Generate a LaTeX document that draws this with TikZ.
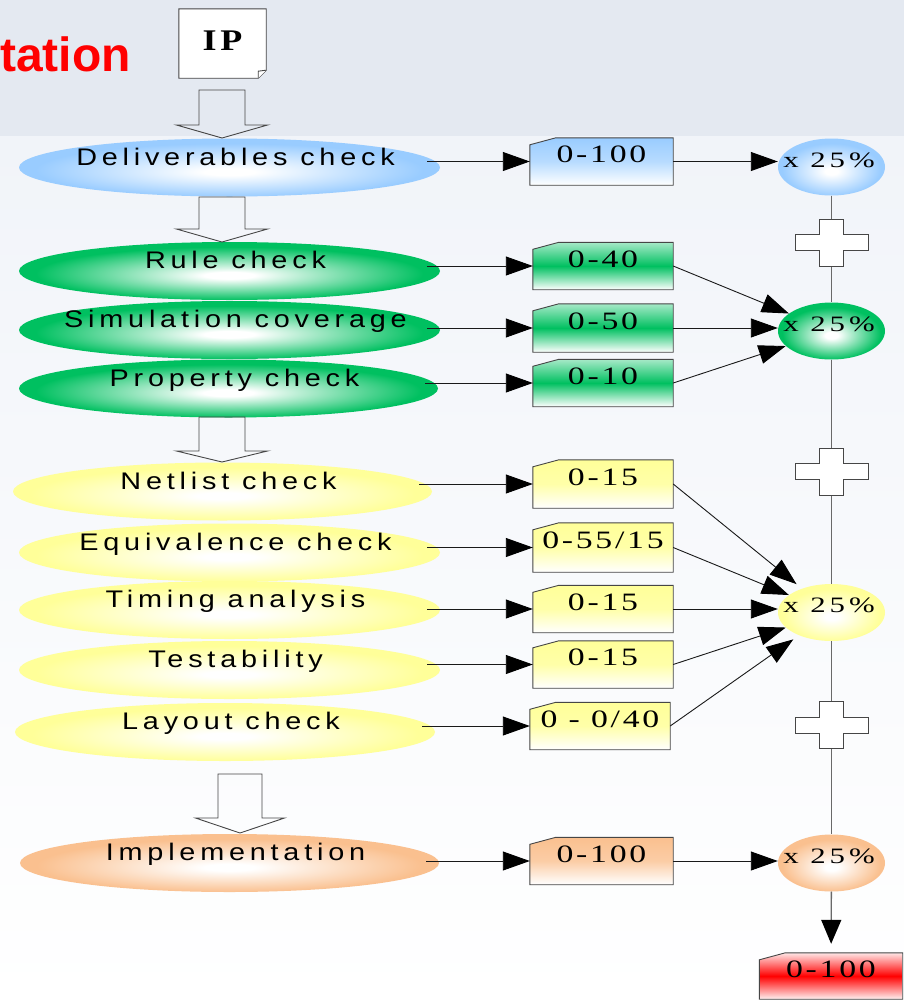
\documentclass[tikz,border=0pt]{standalone}
\usepackage{fontspec}
\setmainfont{Liberation Serif}
\newfontfamily\ellfont{Liberation Sans}[FakeStretch=1.2,LetterSpace=20]
\newfontfamily\boxfont{Liberation Serif}[FakeStretch=1.35,LetterSpace=11]
\newfontfamily\circfont{Liberation Serif}[FakeStretch=1.4,LetterSpace=18]
\newfontfamily\ipfont{Liberation Serif}[FakeStretch=1.2,LetterSpace=12]
\newfontfamily\titlefont{Liberation Sans}
\usetikzlibrary{arrows.meta,shapes.geometric}

\definecolor{cblue}{RGB}{153,204,255}
\definecolor{cgreen}{RGB}{0,192,96}
\definecolor{cyellow}{RGB}{255,255,153}
\definecolor{corange}{RGB}{250,192,143}
\definecolor{cred}{RGB}{255,0,0}
\definecolor{bgtop}{RGB}{228,233,241}
\definecolor{bgmid}{RGB}{241,244,249}
\definecolor{linec}{RGB}{25,25,25}
\definecolor{edgec}{RGB}{70,70,70}
\definecolor{vlinec}{RGB}{105,105,105}

\pgfdeclareradialshading{shblue}{\pgfpoint{0bp}{-4bp}}{color(0bp)=(white); color(3bp)=(white); color(23bp)=(cblue); color(50bp)=(cblue)}
\pgfdeclareradialshading{shgreen}{\pgfpoint{0bp}{-4bp}}{color(0bp)=(white); color(3bp)=(white); color(23bp)=(cgreen); color(50bp)=(cgreen)}
\pgfdeclareradialshading{shyellow}{\pgfpoint{0bp}{-4bp}}{color(0bp)=(white); color(3bp)=(white); color(23bp)=(cyellow); color(50bp)=(cyellow)}
\pgfdeclareradialshading{shorange}{\pgfpoint{0bp}{-4bp}}{color(0bp)=(white); color(3bp)=(white); color(23bp)=(corange); color(50bp)=(corange)}

\pgfdeclarelayer{bg0}
\pgfdeclarelayer{background}
\pgfsetlayers{bg0,background,main}

\newcommand\etxt[1]{\raisebox{2.5pt}{\makebox[0pt]{\hspace{12pt}#1}}}
\newcommand\btxt[1]{\raisebox{-1pt}{\makebox[0pt]{#1}}}
\newcommand\ctxt[1]{\raisebox{0pt}{\makebox[0pt]{\hspace{-5pt}#1}}}
\newcommand\cutbox[2]{\begin{pgfonlayer}{background}\shadedraw[boxedge,#2] (#1.south west) -- (#1.south east) -- (#1.north east) -- ([xshift=26pt]#1.north west) -- ([yshift=-7pt]#1.north west) -- cycle;\end{pgfonlayer}}
\newcommand\blkarrow[6]{\draw[barrow] (#1-#5,#2) -- (#1+#5,#2) -- (#1+#5,#3) -- (#1+#6,#3) -- (#1,#4) -- (#1-#6,#3) -- (#1-#5,#3) -- cycle;}

\begin{document}
\begin{tikzpicture}[x=1pt,y=-1pt,
  ell/.style={ellipse, minimum width=421pt, minimum height=58pt, inner sep=0pt, text height=0pt, text depth=0pt, shade, font=\ellfont\fontsize{24}{24}\selectfont},
  circ/.style={ellipse, minimum width=107pt, minimum height=57pt, inner sep=0pt, text height=0pt, text depth=0pt, shade, font=\circfont\fontsize{22}{22}\selectfont},
  valbox/.style={rectangle, minimum width=140pt, minimum height=47pt, inner sep=0pt, text height=0pt, text depth=0pt, font=\boxfont\fontsize{25}{25}\selectfont},
  boxedge/.style={draw=edgec, line width=0.9pt},
  bluebox/.style={top color=cblue, bottom color=white, middle color=cblue!70},
  greenbox/.style={top color=cgreen!35, bottom color=white, middle color=cgreen},
  yellowbox/.style={top color=cyellow, bottom color=white, middle color=cyellow!85},
  orangebox/.style={top color=corange, bottom color=white, middle color=corange!80},
  redbox/.style={top color=cred!10, bottom color=cred!5, middle color=cred},
  arr/.style={draw=linec, line width=0.9pt, -{Triangle[length=27pt,width=19pt,color=black]}},
  vl/.style={draw=vlinec, line width=1.3pt},
  barrow/.style={draw=edgec, line width=0.9pt},
  crossmark/.pic={\draw[draw=edgec, fill=white, line width=0.9pt] (-12,-23.5) -- (12,-23.5) -- (12,-8) -- (36.5,-8) -- (36.5,8) -- (12,8) -- (12,23.5) -- (-12,23.5) -- (-12,8) -- (-36.5,8) -- (-36.5,-8) -- (-12,-8) -- cycle;}
]
\useasboundingbox (0,0) rectangle (904,1002);
\begin{pgfonlayer}{bg0}
  \fill[bgtop] (0,0) rectangle (904,136);
  \shade[top color=bgmid, bottom color=white] (0,136) rectangle (904,1002);
\end{pgfonlayer}

% title fragment
\node[anchor=base east, text=cred, inner sep=0pt, font=\titlefont\bfseries\fontsize{48}{48}\selectfont] (ttl) at (131,71) {tation};

% IP document
\node[rectangle, minimum width=87pt, minimum height=69pt, inner sep=0pt, text height=0pt, text depth=0pt, font=\ipfont\bfseries\fontsize{30}{30}\selectfont] (ip) at (222.5,43.5) {\raisebox{-6.5pt}{\makebox[0pt]{IP}}};
\begin{pgfonlayer}{background}
  \draw[boxedge, fill=white] (ip.north west) -- (ip.north east) -- ([yshift=8pt]ip.south east) -- ([xshift=-8pt]ip.south east) -- (ip.south west) -- cycle;
  \draw[boxedge, fill=white] ([xshift=-8pt]ip.south east) -- ([xshift=-8pt,yshift=7pt]ip.south east) -- ([yshift=8pt]ip.south east);
\end{pgfonlayer}

% ellipses
\node[ell, shading=shblue] (e1) at (229.5,167.5) {\etxt{Deliverables check}};
\node[ell, shading=shgreen] (e2) at (229.5,271) {\etxt{Rule check}};
\node[ell, shading=shgreen] (e3) at (229.5,330) {\etxt{Simulation coverage}};
\node[ell, shading=shgreen, minimum width=419pt] (e4) at (228.5,388.5) {\etxt{Property check}};
\node[ell, shading=shyellow, minimum width=419pt] (e5) at (222.5,491.5) {\etxt{Netlist check}};
\node[ell, shading=shyellow] (e6) at (229.5,552.5) {\etxt{Equivalence check}};
\node[ell, shading=shyellow] (e7) at (229.5,610) {\etxt{Timing analysis}};
\node[ell, shading=shyellow] (e8) at (229.5,670) {\etxt{Testability}};
\node[ell, shading=shyellow, minimum width=420pt] (e9) at (225,732) {\etxt{Layout check}};
\node[ell, shading=shorange, minimum width=419pt] (e10) at (229.5,863) {\etxt{Implementation}};

% block arrows
\blkarrow{222}{90}{125}{138}{23}{45.5}
\blkarrow{222}{197}{229}{242}{23}{45.5}
\blkarrow{222}{417}{451}{462}{23}{45.5}
\blkarrow{240}{774}{818}{833}{22}{44.5}

% value boxes
\node[valbox, minimum width=143pt] (b1) at (601.5,161.5) {\btxt{0-100}};
\node[valbox] (b2) at (603,266) {\btxt{0-40}};
\node[valbox, minimum height=48pt] (b3) at (603,328) {\btxt{0-50}};
\node[valbox] (b4) at (603,383) {\btxt{0-10}};
\node[valbox, minimum height=48pt] (b5) at (603,484) {\btxt{0-15}};
\node[valbox, minimum height=49pt] (b6) at (603,547.5) {\btxt{0-55/15}};
\node[valbox] (b7) at (603,609) {\btxt{0-15}};
\node[valbox] (b8) at (603,664.5) {\btxt{0-15}};
\node[valbox] (b9) at (600,726) {\btxt{0 - 0/40}};
\node[valbox, minimum width=143pt] (b10) at (601.5,861) {\btxt{0-100}};
\node[valbox, minimum width=143pt, minimum height=46pt] (b11) at (831,976) {\btxt{0-100}};
\cutbox{b1}{bluebox}
\cutbox{b2}{greenbox}
\cutbox{b3}{greenbox}
\cutbox{b4}{greenbox}
\cutbox{b5}{yellowbox}
\cutbox{b6}{yellowbox}
\cutbox{b7}{yellowbox}
\cutbox{b8}{yellowbox}
\cutbox{b9}{yellowbox}
\cutbox{b10}{orangebox}
\cutbox{b11}{redbox}

% circles
\node[circ, shading=shblue] (c1) at (831.5,167) {\ctxt{x 25\%}};
\node[circ, shading=shgreen] (c2) at (831.5,331) {\ctxt{x 25\%}};
\node[circ, shading=shyellow] (c3) at (831.5,612.5) {\ctxt{x 25\%}};
\node[circ, shading=shorange] (c4) at (831.5,863) {\ctxt{x 25\%}};

% ellipse -> box
\foreach \e/\b in {e1/b1,e2/b2,e3/b3,e4/b4,e5/b5,e6/b6,e7/b7,e8/b8,e9/b9,e10/b10}
  \draw[arr, shorten <=-13pt] (\e.east |- \b.west) -- (\b.west);

% box -> circle
\draw[arr] (b1.east) -- (b1.east -| c1.west);
\draw[arr] (b2.east) -- (c2);
\draw[arr] (b3.east) -- (b3.east -| c2.west);
\draw[arr] (b4.east) -- (c2);
\draw[arr, shorten >=7pt] (b5.east) -- (c3);
\draw[arr] (b6.east) -- (c3);
\draw[arr] (b7.east) -- (b7.east -| c3.west);
\draw[arr] (b8.east) -- (c3);
\draw[arr, shorten >=7pt] (b9.east) -- (c3);
\draw[arr] (b10.east) -- (b10.east -| c4.west);

% sum line
\draw[vl] (c1) -- (c2);
\draw[vl] (c2) -- (c3);
\draw[vl] (c3) -- (c4);
\draw[vl, -{Triangle[length=24pt,width=20pt,color=black]}, shorten >=9pt] (c4) -- (b11);

\pic at (831.5,242.5) {crossmark};
\pic at (831.5,471.5) {crossmark};
\pic at (831.5,725) {crossmark};
\end{tikzpicture}
\end{document}
